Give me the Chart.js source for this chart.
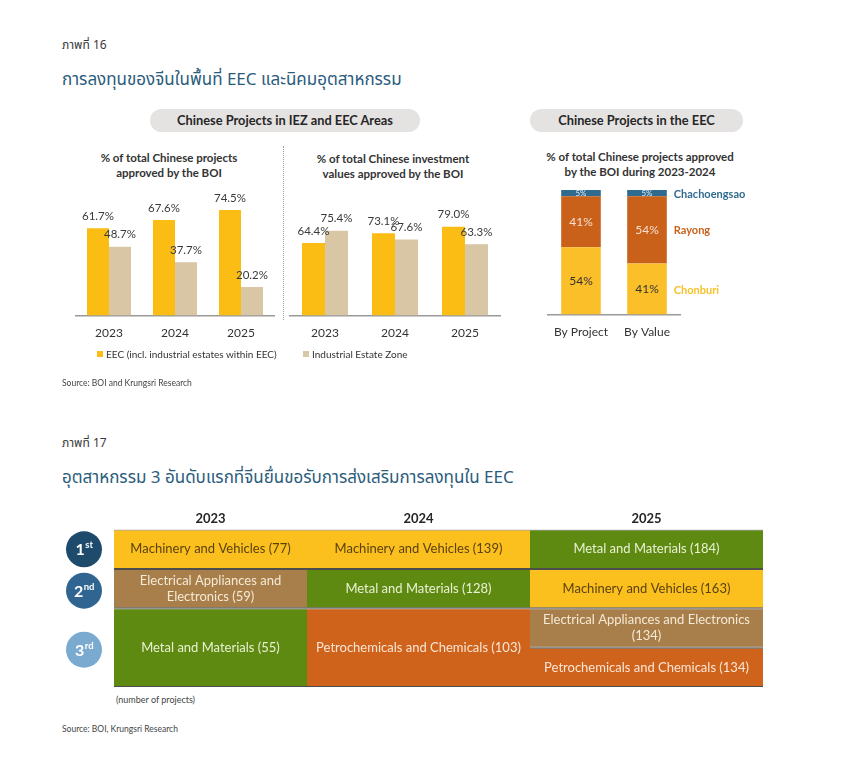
<!DOCTYPE html>
<html>
<head>
<meta charset="utf-8">
<script src="https://cdn.jsdelivr.net/npm/chart.js@4.4.1/dist/chart.umd.min.js"></script>
<style>
  body { margin: 0; background: #fff; width: 860px; height: 757px; position: relative; overflow: hidden;
         font-family: Lato, "Noto Sans", sans-serif; color: #333; }
  .abs { position: absolute; }
  .thai { font-family: "Noto Sans Thai", "Noto Sans", "DejaVu Sans", sans-serif; }
  .fig { left: 62px; font-size: 12px; color: #3a3a3a; }
  .title { left: 62px; font-size: 17px; color: #2b5c7c; }
  .pill { background: #e5e2e2; border-radius: 12px; height: 23px; line-height: 23px; text-align: center;
          font-weight: bold; font-size: 12.8px; color: #262626; }
  .sub { text-align: center; font-weight: bold; font-size: 11.5px; line-height: 15px; color: #333; }
  .src { left: 62px; font-size: 8.5px; color: #444; }
  .leg { font-size: 10px; color: #333; }
  .sq { display: inline-block; width: 6px; height: 6px; margin-right: 3px; vertical-align: 1px; }
  canvas { position: absolute; }
</style>
</head>
<body>
<div class="abs fig thai" style="top:36px">ภาพที่ 16</div>
<div class="abs title thai" style="top:67px">การลงทุนของจีนในพื้นที่ EEC และนิคมอุตสาหกรรม</div>

<div class="abs pill" style="left:150px; top:109px; width:270px">Chinese Projects in IEZ and EEC Areas</div>
<div class="abs pill" style="left:530px; top:109px; width:213px">Chinese Projects in the EEC</div>

<div class="abs sub" style="left:84px; top:150px; width:170px">% of total Chinese projects<br>approved by the BOI</div>
<div class="abs sub" style="left:298px; top:151px; width:190px">% of total Chinese investment<br>values approved by the BOI</div>
<div class="abs sub" style="left:530px; top:149px; width:220px">% of total Chinese projects approved<br>by the BOI during 2023-2024</div>

<div class="abs" style="left:283px; top:146px; height:174px; border-left:1.5px dotted #9a9a9a"></div>

<canvas id="c1" width="230" height="200" style="left:60px; top:150px; width:230px; height:200px"></canvas>
<canvas id="c2" width="220" height="200" style="left:285px; top:150px; width:220px; height:200px"></canvas>
<canvas id="c3" width="215" height="199" style="left:540px; top:150px; width:215px; height:199px"></canvas>

<div class="abs leg" style="left:97px; top:348px"><span class="sq" style="background:#fbbc14"></span>EEC (incl. industrial estates within EEC)</div>
<div class="abs leg" style="left:303px; top:348px"><span class="sq" style="background:#d9c6a5"></span>Industrial Estate Zone</div>
<div class="abs src" style="top:378px">Source: BOI and Krungsri Research</div>

<div class="abs fig thai" style="top:434px">ภาพที่ 17</div>
<div class="abs title thai" style="top:465px">อุตสาหกรรม 3 อันดับแรกที่จีนยื่นขอรับการส่งเสริมการลงทุนใน EEC</div>

<canvas id="c4" width="710" height="190" style="left:60px; top:500px; width:710px; height:190px"></canvas>

<div class="abs" style="left:116px; top:694px; font-size:9px; color:#444">(number of projects)</div>
<div class="abs src" style="top:724px">Source: BOI, Krungsri Research</div>

<script>
// ภาพที่ 16
const years16 = ['2023', '2024', '2025'];
const eecProjects = [61.7, 67.6, 74.5];
const iezProjects = [48.7, 37.7, 20.2];
const eecValues = [64.4, 73.1, 79.0];
const iezValues = [75.4, 67.6, 63.3];

const eecGroups = ['By Project', 'By Value'];
const chonburi = [54, 41];
const rayong = [41, 54];
const chachoengsao = [5, 5];

// ภาพที่ 17 - top 3 industries (number of projects)
const years17 = ['2023', '2024', '2025'];
const industries2023 = ['Machinery and Vehicles', 'Electrical Appliances and Electronics', 'Metal and Materials'];
const projects2023 = [77, 59, 55];
const ranks2023 = [1, 2, 3];
const industries2024 = ['Machinery and Vehicles', 'Metal and Materials', 'Petrochemicals and Chemicals'];
const projects2024 = [139, 128, 103];
const ranks2024 = [1, 2, 3];
const industries2025 = ['Metal and Materials', 'Machinery and Vehicles', 'Electrical Appliances and Electronics', 'Petrochemicals and Chemicals'];
const projects2025 = [184, 163, 134, 134];
const ranks2025 = [1, 2, 3, 3];
const rankLabels = ['1', '2', '3'];
const rankSuffix = ['st', 'nd', 'rd'];

const F = 'Lato, "Noto Sans", sans-serif';
const EEC_COL = '#fbbc14';
const IEZ_COL = '#d9c6a5';

// rótulos de valor acima das barras
const valueLabels = {
  id: 'valueLabels',
  afterDatasetsDraw(chart) {
    const ctx = chart.ctx;
    ctx.save();
    ctx.font = '11.5px ' + F;
    ctx.fillStyle = '#3a3a3a';
    ctx.textAlign = 'center';
    ctx.textBaseline = 'middle';
    chart.data.datasets.forEach((ds, i) => {
      chart.getDatasetMeta(i).data.forEach((bar, j) => {
        ctx.fillText(ds.data[j].toFixed(1) + '%', bar.x, bar.y - 12);
      });
    });
    ctx.restore();
  }
};

const groupedOptions = (pad, catPct) => ({
  responsive: false,
  animation: false,
  layout: { padding: pad },
  plugins: { legend: { display: false }, tooltip: { enabled: false } },
  datasets: { bar: { categoryPercentage: catPct, barPercentage: 1 } },
  scales: {
    x: {
      grid: { display: false, drawTicks: false },
      border: { color: '#9a9a9a', width: 1.5 },
      ticks: { color: '#333', font: { family: F, size: 12 }, padding: 10 }
    },
    y: { display: false, min: 0, max: 100 }
  }
});

new Chart(document.getElementById('c1'), {
  type: 'bar',
  data: {
    labels: years16,
    datasets: [
      { label: 'EEC (incl. industrial estates within EEC)', data: eecProjects, backgroundColor: EEC_COL },
      { label: 'Industrial Estate Zone', data: iezProjects, backgroundColor: IEZ_COL }
    ]
  },
  options: groupedOptions({ left: 16, right: 16, top: 24, bottom: 0 }, 0.667),
  plugins: [valueLabels]
});

new Chart(document.getElementById('c2'), {
  type: 'bar',
  data: {
    labels: years16,
    datasets: [
      { label: 'EEC (incl. industrial estates within EEC)', data: eecValues, backgroundColor: EEC_COL },
      { label: 'Industrial Estate Zone', data: iezValues, backgroundColor: IEZ_COL }
    ]
  },
  options: groupedOptions({ left: 5, right: 5, top: 53, bottom: 0 }, 0.657),
  plugins: [valueLabels]
});

// rótulos dentro das barras empilhadas + nomes das províncias à direita
const stackLabels = {
  id: 'stackLabels',
  afterDatasetsDraw(chart) {
    const ctx = chart.ctx;
    ctx.save();
    ctx.textBaseline = 'middle';
    chart.data.datasets.forEach((ds, i) => {
      const bars = chart.getDatasetMeta(i).data;
      bars.forEach((bar, j) => {
        ctx.textAlign = 'center';
        ctx.font = (ds.data[j] < 10 ? '8px ' : '12px ') + F;
        ctx.fillStyle = ds.inner;
        ctx.fillText(ds.data[j] + '%', bar.x, (bar.y + bar.base) / 2);
      });
      const last = bars[bars.length - 1];
      ctx.textAlign = 'left';
      ctx.font = 'bold 11px ' + F;
      ctx.fillStyle = ds.nameColor;
      ctx.fillText(ds.label, last.x + last.width / 2 + 7, (last.y + last.base) / 2 + 1);
    });
    ctx.restore();
  }
};

new Chart(document.getElementById('c3'), {
  type: 'bar',
  data: {
    labels: eecGroups,
    datasets: [
      { label: 'Chonburi', data: chonburi, backgroundColor: '#fbbf2a', inner: '#333', nameColor: '#f6c12c' },
      { label: 'Rayong', data: rayong, backgroundColor: '#c9611b', inner: '#f6dfcc', nameColor: '#c9611b' },
      { label: 'Chachoengsao', data: chachoengsao, backgroundColor: '#2f6a8f', inner: '#e6eef5', nameColor: '#2f6a8f' }
    ]
  },
  options: {
    responsive: false,
    animation: false,
    layout: { padding: { left: 8, right: 75, top: 40, bottom: 0 } },
    plugins: { legend: { display: false }, tooltip: { enabled: false } },
    datasets: { bar: { categoryPercentage: 1, barPercentage: 0.6 } },
    scales: {
      x: {
        stacked: true,
        grid: { display: false, drawTicks: false },
        border: { color: '#9a9a9a', width: 1.5 },
        ticks: { color: '#333', font: { family: F, size: 12 }, padding: 10 }
      },
      y: { stacked: true, display: false, min: 0, max: 100 }
    }
  },
  plugins: [stackLabels]
});

// ภาพที่ 17 - tabela desenhada como barras flutuantes
const industryColors = {
  'Machinery and Vehicles': ['#fbbf1e', '#5a4210'],
  'Electrical Appliances and Electronics': ['#a87e4a', '#f5ead6'],
  'Metal and Materials': ['#5e8a12', '#e9f1d2'],
  'Petrochemicals and Chemicals': ['#d0631b', '#fae6d6']
};

const columns = [
  { inds: industries2023, nums: projects2023, ranks: ranks2023 },
  { inds: industries2024, nums: projects2024, ranks: ranks2024 },
  { inds: industries2025, nums: projects2025, ranks: ranks2025 }
];

// larguras das colunas (px), eixo x linear em px
const colWidths = [193, 223, 233];
const colStarts = colWidths.map((w, i) => colWidths.slice(0, i).reduce((a, b) => a + b, 0));
const colCenters = colStarts.map((s, i) => s + colWidths[i] / 2);
const tableWidth = colWidths.reduce((a, b) => a + b, 0);

// rank 1 -> [0,1], 2 -> [1,2], 3 -> [2,4]
const rankSpan = { 1: [0, 1], 2: [1, 2], 3: [2, 4] };
const cellRange = (col, k) => {
  const r = col.ranks[k];
  const same = col.ranks.filter(x => x === r).length;
  const pos = col.ranks.slice(0, k).filter(x => x === r).length;
  const [a, b] = rankSpan[r];
  const h = (b - a) / same;
  return [a + pos * h, a + (pos + 1) * h];
};

const cellDatasets = columns.flatMap((c, ci) => c.inds.map((ind, k) => ({
  data: [{ x: colCenters[ci], y: cellRange(c, k) }],
  backgroundColor: industryColors[ind][0],
  text: ind + ' (' + c.nums[k] + ')',
  textColor: industryColors[ind][1],
  borderColor: '#4d4d4d',
  borderWidth: { top: 1, bottom: 1, left: 0, right: 0 },
  borderSkipped: false,
  inflateAmount: 0,
  grouped: false,
  barThickness: colWidths[ci]
})));

const wrap = (ctx, text, maxW) => {
  const words = text.split(' ');
  const lines = [];
  let cur = '';
  words.forEach(w => {
    const t = cur ? cur + ' ' + w : w;
    if (ctx.measureText(t).width > maxW && cur) { lines.push(cur); cur = w; } else { cur = t; }
  });
  lines.push(cur);
  return lines;
};

const tableLabels = {
  id: 'tableLabels',
  afterDatasetsDraw(chart) {
    const ctx = chart.ctx;
    ctx.save();
    ctx.textAlign = 'center';
    ctx.textBaseline = 'middle';
    ctx.font = '13px ' + F;
    chart.data.datasets.forEach((ds, i) => {
      const bar = chart.getDatasetMeta(i).data[0];
      const lines = wrap(ctx, ds.text, bar.width - 12);
      const cy = (bar.y + bar.base) / 2;
      ctx.fillStyle = ds.textColor;
      lines.forEach((ln, n) => ctx.fillText(ln, bar.x, cy + (n - (lines.length - 1) / 2) * 16));
    });
    // círculos de posição
    const y = chart.scales.y;
    const circleCols = ['#1e4b6c', '#2f6590', '#7aaad0'];
    rankLabels.forEach((r, n) => {
      const [a, b] = rankSpan[n + 1];
      const cy = y.getPixelForValue((a + b) / 2) + (n ? 2 : 0);
      const cx = chart.chartArea.left - 30;
      ctx.beginPath();
      ctx.arc(cx, cy, 18, 0, Math.PI * 2);
      ctx.fillStyle = circleCols[n];
      ctx.fill();
      ctx.fillStyle = '#fff';
      ctx.font = 'bold 16px ' + F;
      const w1 = ctx.measureText(r).width;
      ctx.font = 'bold 9.5px ' + F;
      const w2 = ctx.measureText(rankSuffix[n]).width;
      const x0 = cx - (w1 + w2) / 2;
      ctx.textAlign = 'left';
      ctx.font = 'bold 16px ' + F;
      ctx.fillText(r, x0, cy + 1);
      ctx.font = 'bold 9.5px ' + F;
      ctx.fillText(rankSuffix[n], x0 + w1 + 0.5, cy - 4);
    });
    ctx.restore();
  }
};

new Chart(document.getElementById('c4'), {
  type: 'bar',
  data: { datasets: cellDatasets },
  options: {
    responsive: false,
    animation: false,
    layout: { padding: { left: 54, right: 7, top: 8, bottom: 3 } },
    plugins: { legend: { display: false }, tooltip: { enabled: false } },
    scales: {
      x: {
        type: 'linear',
        min: 0,
        max: tableWidth,
        offset: false,
        position: 'top',
        grid: { display: false, drawTicks: false, offset: false },
        border: { display: false },
        afterBuildTicks: s => { s.ticks = colCenters.map(v => ({ value: v })); },
        ticks: {
          autoSkip: false,
          maxRotation: 0,
          color: '#262626',
          font: { family: F, size: 13, weight: 'bold' },
          padding: 3,
          callback: (v, i) => years17[i]
        }
      },
      y: { display: false, min: 0, max: 4, reverse: true }
    }
  },
  plugins: [tableLabels]
});
</script>
</body>
</html>
